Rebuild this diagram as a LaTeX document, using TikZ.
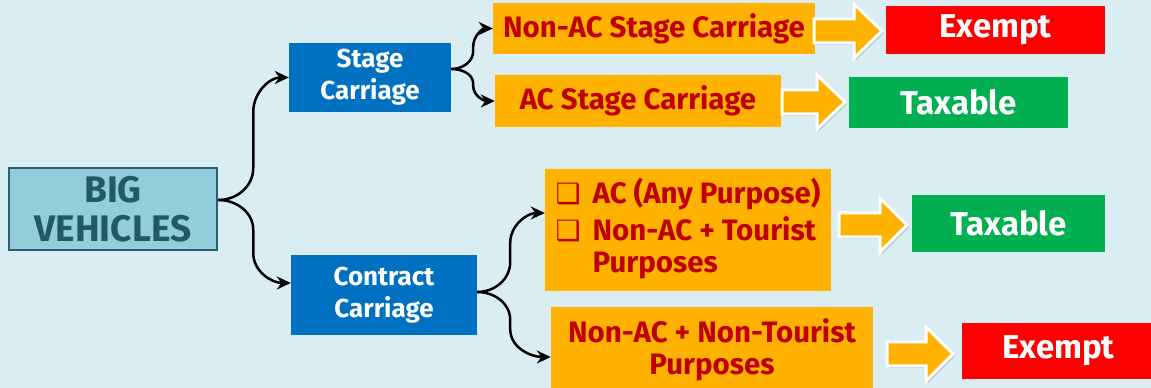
\documentclass[tikz,border=0pt]{standalone}
\usepackage{fontspec}
\setmainfont{Fira Sans}
\newfontfamily\symfont{DejaVu Sans}
\usetikzlibrary{arrows.meta,shadows}
\definecolor{bg}{HTML}{DAEDF3}
\definecolor{bigfill}{HTML}{92CDDC}
\definecolor{bigline}{HTML}{2A6170}
\definecolor{bigtext}{HTML}{215968}
\definecolor{bluebox}{HTML}{0070C0}
\definecolor{orangebox}{HTML}{FFB300}
\definecolor{darkred}{HTML}{C00000}
\definecolor{redbox}{HTML}{FF0000}
\definecolor{greenbox}{HTML}{00B050}
\newcommand\myblockarrow[4]{%
  \filldraw[barrow] (#1,#4+12) -- (#2,#4+12) -- (#2,#4+27) -- (#3,#4) -- (#2,#4-27) -- (#2,#4-12) -- (#1,#4-12) -- cycle;}
\newcommand\mybullet{{\symfont\fontsize{28}{28}\selectfont ❑}}
\begin{document}
\begin{tikzpicture}[x=1pt,y=1pt,
  box/.style={rectangle, inner sep=0pt, align=center, font=\bfseries},
  bluenode/.style={box, fill=bluebox, text=white, font=\bfseries\fontsize{26}{32}\selectfont},
  orangenode/.style={box, fill=orangebox, text=darkred, font=\bfseries\fontsize{29.5}{32}\selectfont},
  resultnode/.style={box, text=white, font=\bfseries\fontsize{33}{34}\selectfont},
  conn/.style={line width=2.5pt, -{Stealth[length=14pt,width=13pt]}},
  barrow/.style={fill=orangebox, draw=white, line width=3pt, line join=miter,
    drop shadow={opacity=0.35, shadow xshift=2pt, shadow yshift=-2pt}}]
\fill[bg] (0,0) rectangle (1151,388);
\useasboundingbox (0,0) rectangle (1151,388);

\node[box, fill=bigfill, draw=bigline, line width=2.5pt, minimum width=208pt, minimum height=82pt,
  text=bigtext, font=\bfseries\fontsize{37}{39}\selectfont] (big) at (113,179) {BIG\\VEHICLES};

\node[bluenode, minimum width=162pt, minimum height=69pt] (stage) at (370,310.5) {Stage\\Carriage};
\node[bluenode, minimum width=186pt, minimum height=80pt] (contract) at (384,93) {Contract\\Carriage};

\node[orangenode, minimum width=322pt, minimum height=51pt] (nonac) at (654,359.5) {Non-AC Stage Carriage};
\node[orangenode, minimum width=286pt, minimum height=52pt] (acst) at (638,287) {AC Stage Carriage};
\node[orangenode, minimum width=286pt, minimum height=122pt] (upper) at (688,158)
  {\begin{tabular}{@{}l@{\hspace{12pt}}l@{}}
   \mybullet & AC (Any Purpose)\\[4pt]
   \mybullet & Non-AC + Tourist\\
   & Purposes
   \end{tabular}};
\node[orangenode, minimum width=322pt, minimum height=85pt] (lower) at (712,38.5) {Non-AC + Non-Tourist\\Purposes};

\node[resultnode, fill=redbox, minimum width=219pt, minimum height=48pt] (ex1) at (995.5,358) {Exempt};
\node[resultnode, fill=greenbox, minimum width=219pt, minimum height=51pt] (tx1) at (958.5,285.5) {Taxable};
\node[resultnode, fill=greenbox, minimum width=193pt, minimum height=57pt] (tx2) at (1008.5,164.5) {Taxable};
\node[resultnode, fill=redbox, minimum width=193pt, minimum height=56pt] (ex2) at (1058.5,37) {Exempt};

\myblockarrow{814}{854}{882}{357}
\myblockarrow{782}{817}{845}{286}
\myblockarrow{839}{880}{907}{163}
\myblockarrow{887}{926}{953}{34}

\draw[conn] ([yshift=9pt]big.east) to[out=0,in=-90] ++(35,32) -- ++(0,56) to[out=90,in=180] (stage.west);
\draw[conn] ([yshift=9pt]big.east) to[out=0,in=90] ++(35,-30) -- ++(0,-23) to[out=-90,in=180] ([yshift=12pt]contract.west);
\draw[conn] ([yshift=8.5pt]stage.east) to[out=0,in=-90] ++(22,18) -- ++(0,4.5) to[out=90,in=180] (nonac.west);
\draw[conn] ([yshift=8.5pt]stage.east) to[out=0,in=90] ++(22,-15) -- ++(0,-2) to[out=-90,in=180] (acst.west);
\draw[conn] ([yshift=3pt]contract.east) to[out=0,in=-90] ++(33,30) -- ++(0,19) to[out=90,in=180] ([yshift=17pt]upper.west);
\draw[conn] ([yshift=3pt]contract.east) to[out=0,in=90] ++(33,-28) -- ++(0,-9) to[out=-90,in=180] ([yshift=-7.5pt]lower.west);
\end{tikzpicture}
\end{document}
